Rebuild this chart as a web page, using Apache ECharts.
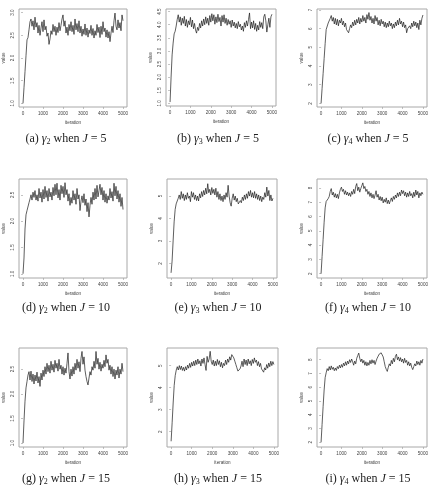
<!DOCTYPE html>
<html><head><meta charset="utf-8">
<script src="https://cdn.jsdelivr.net/npm/echarts@6/dist/echarts.min.js"></script>
<style>html,body{margin:0;padding:0;background:#fff}#c{width:435px;height:493px}</style>
</head><body><div id="c"></div>
<script>
const iterations = [0,50,100,150,200,250,300,350,400,450,500,550,600,650,700,750,800,850,900,950,1000,1050,1100,1150,1200,1250,1300,1350,1400,1450,1500,1550,1600,1650,1700,1750,1800,1850,1900,1950,2000,2050,2100,2150,2200,2250,2300,2350,2400,2450,2500,2550,2600,2650,2700,2750,2800,2850,2900,2950,3000,3050,3100,3150,3200,3250,3300,3350,3400,3450,3500,3550,3600,3650,3700,3750,3800,3850,3900,3950,4000,4050,4100,4150,4200,4250,4300,4350,4400,4450,4500,4550,4600,4650,4700,4750,4800,4850,4900,4950,5000];

const xTicks = [0,1000,2000,3000,4000,5000];

const gamma2_J5 = [1.00,1.35,1.70,2.05,2.40,2.45,2.62,2.80,2.86,2.70,2.82,2.62,2.90,2.68,2.78,2.55,2.72,2.50,2.66,2.80,2.58,2.84,2.62,2.70,2.48,2.55,2.30,2.42,2.60,2.52,2.74,2.58,2.70,2.50,2.68,2.56,2.78,2.60,2.72,2.86,2.95,2.70,2.82,2.55,2.68,2.50,2.74,2.60,2.80,2.58,2.72,2.52,2.86,2.62,2.76,2.58,2.82,2.55,2.70,2.48,2.64,2.52,2.75,2.50,2.66,2.46,2.62,2.54,2.72,2.50,2.65,2.44,2.60,2.50,2.74,2.56,2.68,2.45,2.70,2.52,2.80,2.58,2.66,2.46,2.62,2.44,2.58,2.36,2.55,2.70,2.56,2.82,2.99,2.70,2.62,2.84,2.66,2.78,2.60,2.95,2.82];

const gamma3_J5 = [1.05,2.00,2.85,3.30,3.65,3.75,3.95,4.20,4.38,4.10,4.30,3.98,4.25,4.05,4.32,3.95,4.20,3.90,4.15,4.00,4.28,3.92,4.18,3.85,4.05,3.80,3.68,3.90,3.78,4.05,3.88,4.15,3.95,4.22,4.00,4.30,4.05,4.25,3.98,4.35,4.10,4.42,4.15,4.38,4.02,4.30,4.08,4.40,4.12,4.28,3.95,4.35,4.10,4.38,4.05,4.25,3.98,4.20,4.02,4.15,3.90,4.18,3.95,4.10,3.88,4.05,3.85,4.12,3.92,4.02,3.80,3.95,3.75,4.08,3.90,4.15,3.95,4.20,4.45,3.85,4.10,3.88,4.15,3.82,4.05,3.75,3.98,3.80,4.12,3.90,4.08,3.85,4.30,4.40,4.15,3.72,4.00,4.25,3.90,4.30,4.40];

const gamma4_J5 = [2.00,2.80,3.60,4.40,5.20,5.95,6.05,6.30,6.20,6.55,6.70,6.40,6.60,6.25,6.55,6.20,6.50,6.15,6.45,6.30,6.55,6.20,6.40,6.10,6.30,5.95,6.05,5.78,6.00,6.20,6.05,6.35,6.15,6.45,6.20,6.50,6.30,6.60,6.25,6.55,6.35,6.70,6.40,6.60,6.30,6.75,6.50,6.86,6.45,6.65,6.30,6.55,6.25,6.70,6.40,6.60,6.20,6.45,6.15,6.50,6.25,6.40,6.10,6.35,6.05,6.30,6.10,6.40,6.15,6.30,6.00,6.25,6.05,6.35,6.15,6.45,6.20,6.55,6.25,6.40,6.10,6.35,6.05,6.20,5.78,6.00,5.90,6.15,6.00,6.30,6.10,6.40,6.15,6.35,6.05,6.30,5.95,6.45,6.20,6.55,6.73];

const gamma2_J10 = [1.00,1.30,1.85,2.12,2.20,2.18,2.35,2.42,2.50,2.40,2.55,2.45,2.58,2.40,2.50,2.38,2.62,2.44,2.55,2.36,2.60,2.42,2.66,2.45,2.58,2.38,2.62,2.46,2.55,2.40,2.64,2.48,2.70,2.50,2.72,2.44,2.60,2.40,2.68,2.52,2.66,2.45,2.73,2.50,2.60,2.38,2.52,2.30,2.45,2.34,2.58,2.40,2.52,2.32,2.62,2.42,2.50,2.20,2.38,2.48,2.35,2.52,2.30,2.42,2.18,2.35,2.08,2.30,2.45,2.32,2.55,2.40,2.62,2.42,2.68,2.46,2.58,2.70,2.50,2.64,2.40,2.58,2.36,2.52,2.34,2.48,2.40,2.62,2.44,2.56,2.38,2.72,2.48,2.66,2.42,2.58,2.36,2.52,2.28,2.45,2.22];

const gamma3_J10 = [1.58,2.10,3.00,3.85,4.40,4.65,4.70,4.90,5.05,4.85,5.20,4.90,5.10,4.80,5.05,4.85,5.15,4.90,5.00,4.75,5.20,4.95,5.15,4.85,5.05,4.80,5.00,4.78,5.10,4.92,5.20,4.98,5.25,5.05,5.35,5.10,5.55,5.15,5.30,5.05,5.38,5.12,5.30,5.05,5.35,4.95,5.20,4.85,5.10,4.80,5.00,4.75,5.05,4.85,5.15,4.95,5.48,5.00,4.70,4.55,4.90,5.10,4.82,5.00,4.75,4.90,4.65,4.58,4.80,4.70,4.95,4.80,5.05,4.85,5.10,4.90,5.20,5.00,5.25,4.95,5.15,4.92,5.20,4.90,5.10,4.85,5.05,4.80,5.00,4.75,4.95,4.85,5.15,4.95,5.40,5.00,5.25,4.80,5.05,4.78,4.90];

const gamma4_J10 = [2.00,3.20,4.40,5.60,6.60,7.05,7.10,7.25,7.40,7.75,7.95,7.50,7.70,7.35,7.60,7.30,7.55,7.25,7.65,7.90,8.05,7.75,7.90,7.55,7.80,7.50,7.70,7.45,7.65,7.40,7.75,7.55,7.90,7.60,8.10,8.30,7.80,8.05,7.70,7.95,8.15,8.35,7.95,8.10,7.75,7.90,7.55,7.75,7.40,7.65,7.30,7.55,7.25,7.50,7.80,7.35,7.55,7.15,7.40,7.10,7.35,6.95,7.20,7.00,7.30,6.90,7.15,6.88,7.10,7.30,7.05,7.40,7.20,7.50,7.30,7.65,7.40,7.70,7.45,7.85,7.60,7.80,7.45,7.70,7.35,7.65,7.40,7.75,7.45,7.60,7.30,7.70,7.40,7.85,7.50,7.75,7.30,7.65,7.45,7.70,7.55];

const gamma2_J15 = [1.00,1.45,1.85,2.12,2.25,2.38,2.45,2.28,2.46,2.25,2.40,2.20,2.38,2.26,2.44,2.22,2.35,2.15,2.42,2.28,2.48,2.35,2.55,2.40,2.62,2.45,2.58,2.42,2.66,2.48,2.60,2.44,2.68,2.52,2.62,2.46,2.70,2.50,2.58,2.40,2.55,2.38,2.52,2.42,2.62,2.83,2.45,2.30,2.50,2.36,2.55,2.40,2.62,2.48,2.70,2.52,2.65,2.45,2.72,2.86,2.60,2.75,2.48,2.35,2.25,2.18,2.32,2.45,2.38,2.55,2.48,2.66,2.52,2.86,2.60,2.72,2.50,2.64,2.46,2.60,2.52,2.68,2.55,2.79,2.62,2.70,2.48,2.58,2.40,2.55,2.35,2.50,2.30,2.48,2.38,2.55,2.32,2.50,2.40,2.62,2.45];

const gamma3_J15 = [1.56,2.40,3.30,4.10,4.55,4.80,4.95,4.80,5.00,4.82,4.98,4.78,4.92,4.75,4.95,4.80,5.02,4.88,5.10,4.92,5.15,4.98,5.20,5.00,5.25,5.05,5.30,5.08,5.22,4.98,5.30,5.10,5.35,5.05,4.78,5.42,5.15,5.30,5.65,5.20,5.05,5.25,4.98,5.20,5.00,5.28,5.05,5.22,4.95,5.15,4.90,5.10,5.00,5.25,5.05,5.30,5.15,5.40,5.25,5.50,5.57,5.35,5.20,5.05,4.90,4.75,4.68,4.85,4.98,5.20,4.95,5.30,5.05,5.25,5.00,5.30,5.08,5.22,5.00,5.28,5.10,5.35,5.15,5.25,5.00,5.18,4.95,5.10,4.85,4.92,4.70,4.90,4.80,5.05,4.88,5.12,4.95,5.20,5.00,5.18,5.05];

const gamma4_J15 = [2.00,3.30,4.60,5.80,6.70,7.05,7.35,7.20,7.50,7.25,7.55,7.30,7.45,7.20,7.40,7.22,7.50,7.35,7.60,7.40,7.65,7.45,7.75,7.55,7.85,7.60,7.90,7.70,8.00,7.80,8.05,7.85,7.60,7.90,7.70,8.10,8.30,8.48,8.10,7.85,8.05,7.75,7.95,7.60,7.85,7.55,7.80,7.60,7.95,7.70,8.00,7.75,7.95,7.65,7.90,8.10,8.25,8.40,8.30,8.50,8.55,8.20,7.85,7.50,7.30,7.15,7.45,7.70,7.55,7.95,7.70,8.10,7.85,8.25,8.40,8.00,8.20,7.90,8.15,7.85,8.05,7.75,8.10,7.80,7.95,7.60,7.85,7.55,7.75,7.45,7.28,7.50,7.70,7.55,7.90,7.65,7.85,7.60,7.95,7.75,8.05];

const captionLetters = ['a','b','c','d','e','f','g','h','i'];
const captionGamma = ['2','3','4','2','3','4','2','3','4'];
const captionJ = ['5','5','5','10','10','10','15','15','15'];

const yTicks = [
  [1.0,1.5,2.0,2.5,3.0],
  [1.0,1.5,2.0,2.5,3.0,3.5,4.0,4.5],
  [2,3,4,5,6,7],
  [1.0,1.5,2.0,2.5],
  [2,3,4,5],
  [2,3,4,5,6,7,8],
  [1.0,1.5,2.0,2.5],
  [2,3,4,5],
  [2,3,4,5,6,7,8]
];
const yDecimals = [1,1,0,1,0,0,1,0,0];

const series = [gamma2_J5,gamma3_J5,gamma4_J5,gamma2_J10,gamma3_J10,gamma4_J10,gamma2_J15,gamma3_J15,gamma4_J15];

// layout (positions / ranges)
const grids = [
  {left:17,top:9,width:110,height:98},
  {left:166,top:9,width:110,height:97},
  {left:317,top:9,width:110,height:98},
  {left:16,top:179,width:111,height:99},
  {left:167,top:179,width:110,height:99},
  {left:317,top:179,width:110,height:99},
  {left:16,top:348,width:111,height:99},
  {left:167,top:348,width:111,height:99},
  {left:317,top:348,width:110,height:99}
];
const yRange = [[0.92,3.08],[0.90,4.60],[1.81,7.05],[0.92,2.80],[1.35,5.76],[1.70,8.62],[0.92,2.93],[1.30,5.80],[1.66,8.85]];
const captionY = [139,139,139,308,308,308,479,479,479];
const captionX = [66,218,368,66,218,368,66,218,368];

const axisCol = '#9a9a9a';
const labCol = '#444';
const fs = 4.6;

const option = {
  animation:false,
  backgroundColor:'#fff',
  grid: grids.map(g => Object.assign({show:true,borderColor:'#a8a8a8',borderWidth:1,backgroundColor:'transparent',containLabel:false}, g)),
  xAxis: grids.map((g,i) => ({
    type:'value', gridIndex:i, min:-200, max:5200,
    name:'iteration', nameLocation:'middle', nameGap:13,
    nameTextStyle:{fontSize:fs,color:labCol,fontFamily:'Liberation Sans'},
    axisLine:{show:false},
    axisTick:{show:true,inside:false,length:2,lineStyle:{color:axisCol,width:0.6},customValues:xTicks},
    axisLabel:{show:true,fontSize:fs,color:labCol,margin:4,fontFamily:'Liberation Sans',customValues:xTicks,formatter:v=>String(v)},
    splitLine:{show:false}
  })),
  yAxis: grids.map((g,i) => ({
    type:'value', gridIndex:i, min:yRange[i][0], max:yRange[i][1],
    name:'value', nameLocation:'middle', nameGap:13, nameRotate:90,
    nameTextStyle:{fontSize:fs,color:labCol,fontFamily:'Liberation Sans'},
    axisLine:{show:false},
    axisTick:{show:true,length:2,lineStyle:{color:axisCol,width:0.6},customValues:yTicks[i]},
    axisLabel:{show:true,rotate:90,fontSize:fs,color:labCol,margin:4,fontFamily:'Liberation Sans',customValues:yTicks[i],formatter:v=>Number(v).toFixed(yDecimals[i])},
    splitLine:{show:false}
  })),
  series: series.map((vals,i) => ({
    type:'line', xAxisIndex:i, yAxisIndex:i, showSymbol:false, symbol:'none',
    data: iterations.map((x,k)=>[x, vals[k]]),
    lineStyle:{color:'#1a1a1a',width:0.7},
    silent:true
  })),
  graphic: series.map((v,i) => ({
    type:'text', x:captionX[i], y:captionY[i],
    style:{
      text:'{n|(' + captionLetters[i] + ') }{g|γ}{s|' + captionGamma[i] + '}{n| when }{j|J}{n| = ' + captionJ[i] + '}',
      align:'center', verticalAlign:'middle',
      rich:{
        n:{fontFamily:'Liberation Serif',fontSize:12,fill:'#222'},
        g:{fontFamily:'Liberation Serif',fontSize:12,fill:'#222',fontStyle:'italic'},
        s:{fontFamily:'Liberation Serif',fontSize:8,fill:'#222',verticalAlign:'bottom',padding:[6,0,0,0]},
        j:{fontFamily:'Liberation Serif',fontSize:12,fill:'#222',fontStyle:'italic'}
      }
    }
  }))
};
const chart = echarts.init(document.getElementById('c'));
chart.setOption(option);
</script>
</body></html>
